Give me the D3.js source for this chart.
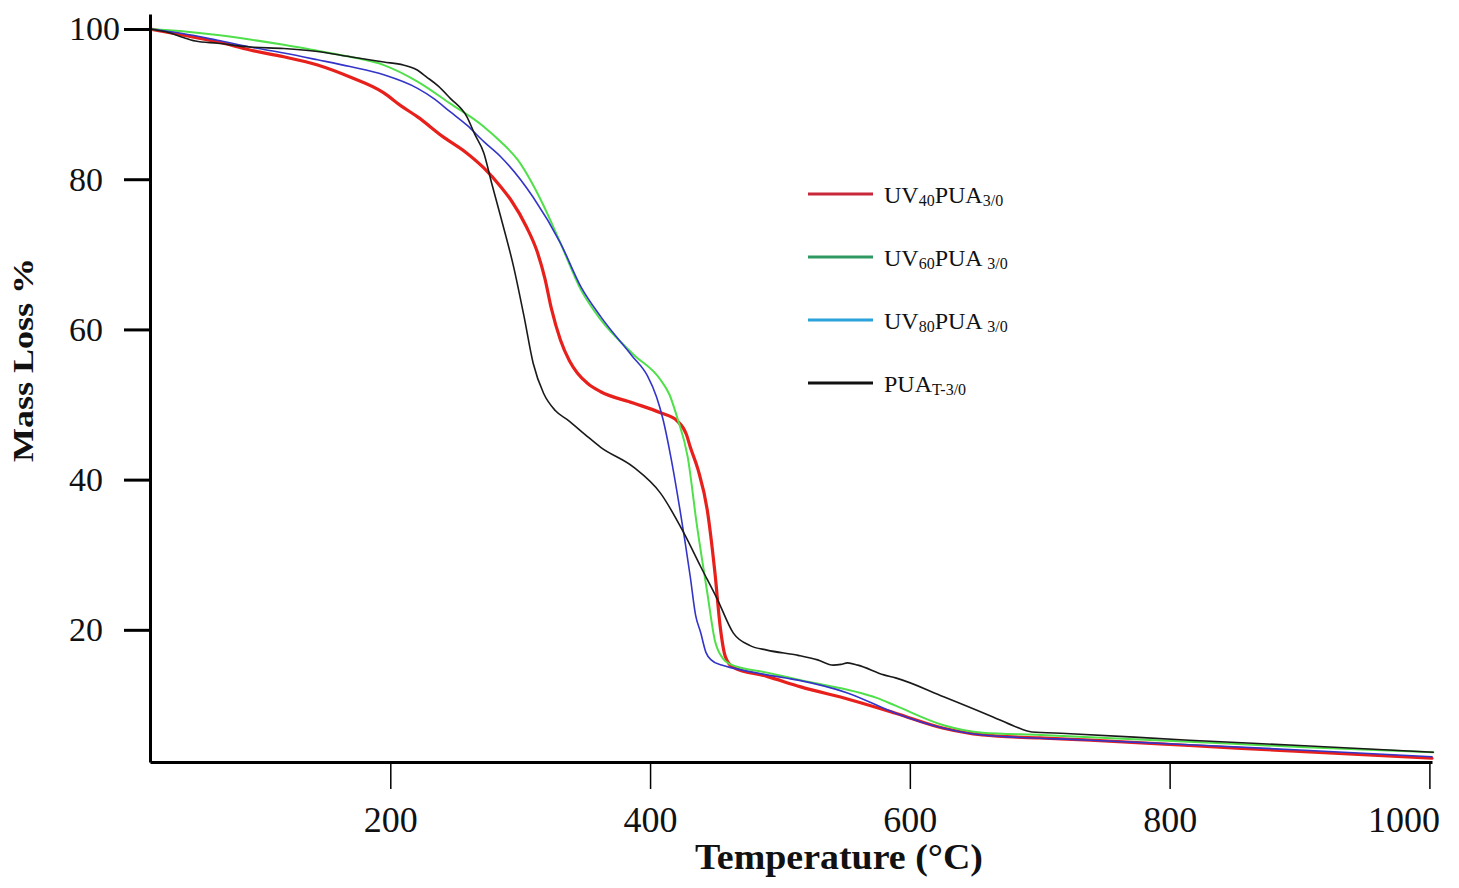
<!DOCTYPE html>
<html lang="en">
<head>
<meta charset="UTF-8">
<title>TGA curves</title>
<script src="https://d3js.org/d3.v7.min.js"></script>
<style>
  body { margin: 0; background: #fff; }
  text { font-family: "Liberation Serif", "Times New Roman", serif; fill: #111; }
  .curve { fill: none; stroke-linejoin: round; stroke-linecap: round; }
</style>
</head>
<body>
<svg width="1459" height="888"></svg>
<script>
// temperature (°C), mass (%)
const uv40 = [[15,100],[40,99.2],[67,98.3],[92,97.2],[118,96.3],[144,95.2],[169,93.6],[195,91.5],[208,89.8],[221,88.3],[241,85.6],[258,83.6],[272,81.5],[285,79],[293,77.2],[305,73.6],[313,70.4],[319,66.8],[324,62.8],[331,58.6],[338,55.8],[344,54.2],[352,52.8],[362,51.7],[387,50.2],[408,48.9],[421,47.8],[428,46],[431,44.3],[437,41.3],[444,36],[450,27.5],[454,20.4],[458,16.4],[464,15.0],[490,13.8],[516,12.4],[554,10.7],[589,8.9],[626,6.9],[656,6.0],[700,5.6],[739,5.3],[815,4.6],[900,3.8],[1002,2.9]];
const uv60 = [[15,100],[40,99.7],[67,99.2],[92,98.6],[118,97.9],[144,97.1],[169,96.3],[195,95.2],[221,93.0],[246,90.1],[272,87],[285,85],[298,82.6],[316,77.2],[331,71.5],[347,65.2],[362,61.3],[387,56.7],[408,53.3],[415,51.3],[421,48.2],[429,43],[436,34],[444,25],[450,18.5],[456,16.2],[462,15.4],[490,14.3],[516,13.3],[575,10.9],[589,9.9],[626,7.3],[656,6.3],[701,6.0],[815,5.1],[900,4.4],[1003,3.7]];
const uv80 = [[15,100],[40,99.4],[67,98.5],[92,97.6],[118,96.8],[144,95.9],[169,95.0],[195,93.9],[221,92.1],[233,90.8],[246,89],[259,87.2],[272,85],[285,83],[310,77.6],[331,71.5],[347,65.6],[362,61.7],[386,56.5],[398,53.8],[405,51],[410,48],[416,43],[423,36],[431,27],[435,22],[439,19.6],[443,17],[447,16],[455,15.3],[464,14.9],[490,14.0],[514,13.3],[552,11.6],[589,8.9],[626,6.9],[656,6.0],[739,5.3],[815,4.7],[900,4.0],[1002,3.1]];
const puaT = [[15,100],[30,99.5],[40,98.9],[50,98.4],[67,98.1],[92,97.6],[118,97.4],[144,97.0],[169,96.3],[195,95.6],[210,95.2],[220,94.6],[228,93.6],[237,92.4],[246,90.8],[259,88.3],[265,86],[272,83.5],[278,79.5],[285,75],[295,68.3],[303,61.7],[310,55.5],[318,51.5],[327,49.2],[337,47.9],[350,46],[362,44.3],[387,41.7],[408,38.2],[426,32.9],[439,28.4],[452,24],[464,19.6],[477,17.9],[490,17.3],[514,16.6],[529,16],[541,15.3],[547,15.4],[552,15.6],[560,15.3],[580,14],[589,13.6],[626,11.1],[664,8.4],[680,7.2],[694,6.4],[720,6.2],[815,5.3],[900,4.6],[1003,3.7]];

const xTicks = [200, 400, 600, 800, 1000];
const yTicks = [20, 40, 60, 80, 100];

// drawing order: red underneath, black on top
const series = [
  { data: uv40, color: "#e8201c", width: 3.2 },
  { data: uv60, color: "#4fe04a", width: 2 },
  { data: uv80, color: "#3434c8", width: 1.6 },
  { data: puaT, color: "#1a1a1a", width: 1.6 }
];

// legend entries (colours differ from the curves in the original figure)
const legendItems = [
  { color: "#c8283a", parts: [["UV"], ["40", "sub"], ["PUA"], ["3/0", "sub"]] },
  { color: "#2e9a62", parts: [["UV"], ["60", "sub"], ["PUA "], ["3/0", "sub"]] },
  { color: "#2aa2dc", parts: [["UV"], ["80", "sub"], ["PUA "], ["3/0", "sub"]] },
  { color: "#111111", parts: [["PUA"], ["T-3/0", "sub"]] }
];

const svg = d3.select("svg");

const x = d3.scaleLinear().domain([15, 1002]).range([150, 1432]);
const y = d3.scaleLinear().domain([2.4, 102]).range([762, 14]);

// curves
const line = d3.line()
  .x(d => x(d[0]))
  .y(d => y(d[1]))
  .curve(d3.curveMonotoneX);

svg.append("g").selectAll("path")
  .data(series)
  .enter().append("path")
  .attr("class", "curve")
  .attr("d", d => line(d.data))
  .attr("stroke", d => d.color)
  .attr("stroke-width", d => d.width);

// x axis
const xAxis = svg.append("g")
  .attr("transform", "translate(0,762)")
  .call(d3.axisBottom(x).tickValues(xTicks).tickFormat(d3.format("d"))
    .tickSize(27).tickSizeOuter(0).tickPadding(17));
xAxis.select(".domain").attr("stroke", "#000").attr("stroke-width", 3);
xAxis.selectAll(".tick line").attr("stroke", "#000").attr("stroke-width", 1.5);
xAxis.selectAll(".tick text").attr("font-size", 36).attr("font-family", "Liberation Serif").attr("fill", "#111");
// last label sits left of its tick so it stays on the page
xAxis.selectAll(".tick text").filter(d => d === 1000)
  .attr("text-anchor", "end").attr("x", 10);

// y axis
const yAxis = svg.append("g")
  .attr("transform", "translate(150,0)")
  .call(d3.axisLeft(y).tickValues(yTicks).tickSize(26).tickSizeOuter(0));
yAxis.select(".domain").attr("stroke", "#000").attr("stroke-width", 3);
yAxis.selectAll(".tick line").attr("stroke", "#000").attr("stroke-width", 3);
yAxis.selectAll(".tick text")
  .attr("font-size", 34).attr("font-family", "Liberation Serif").attr("fill", "#111")
  .attr("text-anchor", "start").attr("x", -81);

// axis titles
svg.append("text")
  .attr("x", 839).attr("y", 869)
  .attr("text-anchor", "middle")
  .attr("font-size", 36).attr("font-weight", "bold")
  .attr("textLength", 288).attr("lengthAdjust", "spacingAndGlyphs")
  .text("Temperature (°C)");

svg.append("text")
  .attr("transform", "translate(33,360) rotate(-90)")
  .attr("text-anchor", "middle")
  .attr("font-size", 30).attr("font-weight", "bold")
  .attr("textLength", 204).attr("lengthAdjust", "spacingAndGlyphs")
  .text("Mass Loss %");

// legend
const legend = svg.append("g").selectAll("g")
  .data(legendItems)
  .enter().append("g")
  .attr("transform", (d, i) => `translate(0,${194 + i * 63})`);

legend.append("line")
  .attr("x1", 808).attr("x2", 873)
  .attr("stroke", d => d.color).attr("stroke-width", 3);

legend.append("text")
  .attr("x", 884).attr("y", 9)
  .attr("font-size", 24)
  .each(function(d) {
    const t = d3.select(this);
    let low = false;
    d.parts.forEach(p => {
      const isSub = p[1] === "sub";
      const span = t.append("tspan").text(p[0]);
      if (isSub) span.attr("font-size", 16);
      if (isSub && !low) span.attr("dy", 3);
      if (!isSub && low) span.attr("dy", -3);
      low = isSub;
    });
  });
</script>
</body>
</html>
